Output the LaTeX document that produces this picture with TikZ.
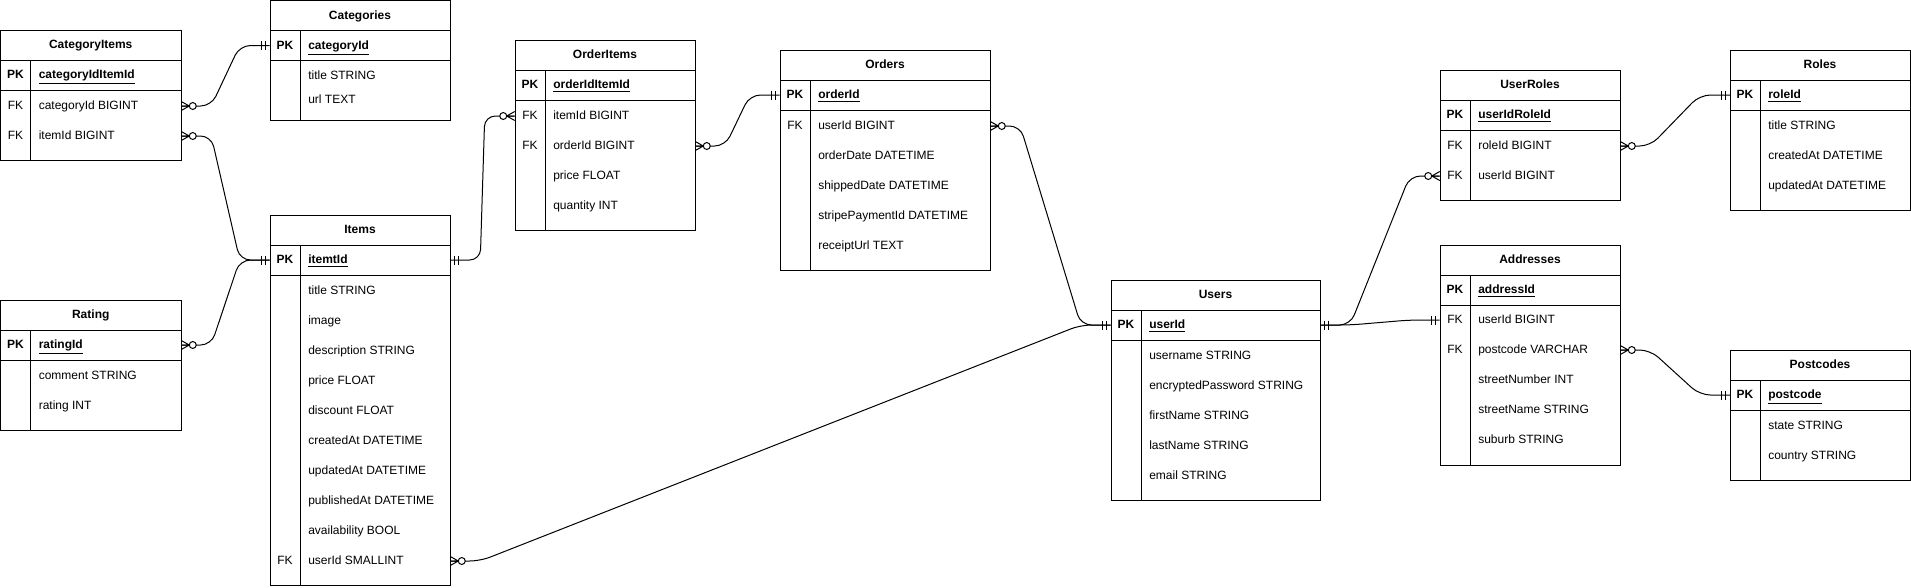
\documentclass[tikz,border=0pt]{standalone}
\usepackage{fontspec}
\setmainfont{Liberation Sans}
\usetikzlibrary{calc}
\tikzset{
  tbl/.style={draw=black, line width=0.75pt},
  conn/.style={draw=black, line width=0.75pt},
  txt/.style={font=\fontsize{9pt}{11pt}\selectfont, inner sep=0pt, text height=7.4pt, text depth=1.5pt},
  hdr/.style={txt, font=\fontsize{9pt}{11pt}\selectfont\bfseries},
  rowbox/.style={draw=none, inner sep=0pt, minimum height=22.5pt},
  keytxt/.style={txt},
  fldtxt/.style={txt, anchor=west},
}
% table frame: id, L, T, R, B, title
\newcommand\ertable[6]{%
  \draw[tbl] (#2,#3) rectangle (#4,#5);
  \draw[tbl] (#2,#3+30) -- (#4,#3+30) (#2,#3+60) -- (#4,#3+60) (#2+30,#3+30) -- (#2+30,#5);
  \node[hdr] (#1) at ({(#2+#4)/2},#3+15) {#6};
}
% table row: id, L, R, y, key, text
\newcommand\errow[6]{%
  \node[rowbox, minimum width={(#3-#2)*0.75pt}] (#1) at ({(#2+#3)/2},#4) {};
  \node[keytxt] (#1-k) at (#2+15,#4) {#5};
  \node[fldtxt] (#1-t) at (#2+38,#4) {#6};
}
\newcommand\pkrow[5]{\errow{#1}{#2}{#3}{#4}{\textbf{PK}}{\textbf{\underline{#5}}}}
% zero-to-many marker at anchor #1, direction #2
\newcommand\zmany[2]{%
  \begin{scope}[shift={(#1)}, xscale=#2]
    \draw[conn] (0,-4.5) -- (8,0) -- (0,4.5) (0,0) -- (8,0);
    \draw[conn, fill=white] (11.5,0) circle[radius=2.6pt];
  \end{scope}}
% mandatory-one marker
\newcommand\mone[2]{%
  \begin{scope}[shift={(#1)}, xscale=#2]
    \draw[conn] (4,-4.5) -- (4,4.5) (8,-4.5) -- (8,4.5);
  \end{scope}}
% relation line: from, dir, to, dir
\newcommand\relate[4]{%
  \draw[conn, rounded corners=8pt] (#1) -- ++(#2*30,0) -- ($(#3)+(#4*30,0)$) -- (#3);
}
\begin{document}
\begin{tikzpicture}[x=0.75pt, y=-0.75pt]
\useasboundingbox (0,0) rectangle (1911,587);

% CategoryItems
\ertable{ci}{0.5}{30}{181}{160}{CategoryItems}
\pkrow{ci-pk}{0.5}{181}{75}{categoryIdItemId}
\errow{ci-cat}{0.5}{181}{106}{FK}{categoryId BIGINT}
\errow{ci-item}{0.5}{181}{136}{FK}{itemId BIGINT}

% Categories
\ertable{cat}{270}{0.5}{450}{120}{Categories}
\pkrow{cat-pk}{270}{450}{45.5}{categoryId}
\errow{cat-title}{270}{450}{76}{}{title STRING}
\errow{cat-url}{270}{450}{100}{}{url TEXT}

% Rating
\ertable{ra}{0.5}{300}{181}{430}{Rating}
\pkrow{ra-pk}{0.5}{181}{345}{ratingId}
\errow{ra-comment}{0.5}{181}{376}{}{comment STRING}
\errow{ra-rating}{0.5}{181}{406}{}{rating INT}

% Items
\ertable{it}{270}{215}{450}{585}{Items}
\pkrow{it-pk}{270}{450}{260}{itemtId}
\errow{it-title}{270}{450}{291}{}{title STRING}
\errow{it-image}{270}{450}{321}{}{image}
\errow{it-desc}{270}{450}{351}{}{description STRING}
\errow{it-price}{270}{450}{381}{}{price FLOAT}
\errow{it-disc}{270}{450}{411}{}{discount FLOAT}
\errow{it-created}{270}{450}{441}{}{createdAt DATETIME}
\errow{it-updated}{270}{450}{471}{}{updatedAt DATETIME}
\errow{it-pub}{270}{450}{501}{}{publishedAt DATETIME}
\errow{it-avail}{270}{450}{531}{}{availability BOOL}
\errow{it-user}{270}{450}{561}{FK}{userId SMALLINT}

% OrderItems
\ertable{oi}{515}{40}{695}{230}{OrderItems}
\pkrow{oi-pk}{515}{695}{85}{orderIdItemId}
\errow{oi-item}{515}{695}{116}{FK}{itemId BIGINT}
\errow{oi-order}{515}{695}{146}{FK}{orderId BIGINT}
\errow{oi-price}{515}{695}{176}{}{price FLOAT}
\errow{oi-qty}{515}{695}{206}{}{quantity INT}

% Orders
\ertable{ord}{780}{50}{990}{270}{Orders}
\pkrow{ord-pk}{780}{990}{95}{orderId}
\errow{ord-user}{780}{990}{126}{FK}{userId BIGINT}
\errow{ord-date}{780}{990}{156}{}{orderDate DATETIME}
\errow{ord-ship}{780}{990}{186}{}{shippedDate DATETIME}
\errow{ord-stripe}{780}{990}{216}{}{stripePaymentId DATETIME}
\errow{ord-receipt}{780}{990}{246}{}{receiptUrl TEXT}

% Users
\ertable{us}{1111}{280}{1320}{500}{Users}
\pkrow{us-pk}{1111}{1320}{325}{userId}
\errow{us-name}{1111}{1320}{356}{}{username STRING}
\errow{us-pw}{1111}{1320}{386}{}{encryptedPassword STRING}
\errow{us-first}{1111}{1320}{416}{}{firstName STRING}
\errow{us-last}{1111}{1320}{446}{}{lastName STRING}
\errow{us-email}{1111}{1320}{476}{}{email STRING}

% UserRoles
\ertable{ur}{1440}{70}{1620}{200}{UserRoles}
\pkrow{ur-pk}{1440}{1620}{115}{userIdRoleId}
\errow{ur-role}{1440}{1620}{146}{FK}{roleId BIGINT}
\errow{ur-user}{1440}{1620}{176}{FK}{userId BIGINT}

% Roles
\ertable{ro}{1730}{50}{1910}{210}{Roles}
\pkrow{ro-pk}{1730}{1910}{95}{roleId}
\errow{ro-title}{1730}{1910}{126}{}{title STRING}
\errow{ro-created}{1730}{1910}{156}{}{createdAt DATETIME}
\errow{ro-updated}{1730}{1910}{186}{}{updatedAt DATETIME}

% Addresses
\ertable{ad}{1440}{245}{1620}{465}{Addresses}
\pkrow{ad-pk}{1440}{1620}{290}{addressId}
\errow{ad-user}{1440}{1620}{320}{FK}{userId BIGINT}
\errow{ad-post}{1440}{1620}{350}{FK}{postcode VARCHAR}
\errow{ad-num}{1440}{1620}{380}{}{streetNumber INT}
\errow{ad-street}{1440}{1620}{410}{}{streetName STRING}
\errow{ad-suburb}{1440}{1620}{440}{}{suburb STRING}

% Postcodes
\ertable{po}{1730}{350}{1910}{480}{Postcodes}
\pkrow{po-pk}{1730}{1910}{395}{postcode}
\errow{po-state}{1730}{1910}{426}{}{state STRING}
\errow{po-country}{1730}{1910}{456}{}{country STRING}

% relations
\relate{ci-cat.east}{1}{cat-pk.west}{-1}
\relate{ci-item.east}{1}{it-pk.west}{-1}
\relate{ra-pk.east}{1}{it-pk.west}{-1}
\relate{it-pk.east}{1}{oi-item.west}{-1}
\relate{oi-order.east}{1}{ord-pk.west}{-1}
\relate{ord-user.east}{1}{us-pk.west}{-1}
\relate{it-user.east}{1}{us-pk.west}{-1}
\relate{us-pk.east}{1}{ur-user.west}{-1}
\relate{us-pk.east}{1}{ad-user.west}{-1}
\relate{ad-post.east}{1}{po-pk.west}{-1}
\relate{ur-role.east}{1}{ro-pk.west}{-1}

% markers
\zmany{ci-cat.east}{1}   \mone{cat-pk.west}{-1}
\zmany{ci-item.east}{1}  \mone{it-pk.west}{-1}
\zmany{ra-pk.east}{1}
\mone{it-pk.east}{1}     \zmany{oi-item.west}{-1}
\zmany{oi-order.east}{1} \mone{ord-pk.west}{-1}
\zmany{ord-user.east}{1} \mone{us-pk.west}{-1}
\zmany{it-user.east}{1}
\mone{us-pk.east}{1}     \zmany{ur-user.west}{-1}
\mone{ad-user.west}{-1}
\zmany{ad-post.east}{1}  \mone{po-pk.west}{-1}
\zmany{ur-role.east}{1}  \mone{ro-pk.west}{-1}
\end{tikzpicture}
\end{document}
